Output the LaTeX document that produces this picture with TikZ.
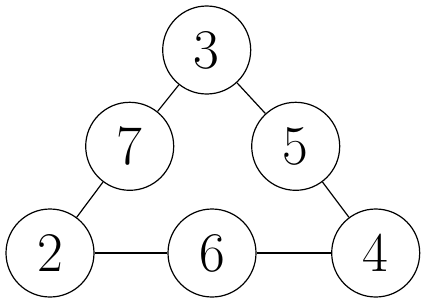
\documentclass[tikz,border=0pt]{standalone}
\begin{document}
\begin{tikzpicture}[x=1pt,y=-1pt,
  num/.style={circle,draw,line width=1.2pt,minimum size=88pt,inner sep=0pt,font=\fontsize{56}{56}\selectfont},
  edge/.style={line width=1.2pt}]
\useasboundingbox (0,0) rectangle (425,303);
\node[num] (n3) at (206.7,50) {3};
\node[num] (n7) at (129.7,146.3) {7};
\node[num] (n5) at (295.7,146.3) {5};
\node[num] (n2) at (50,253) {2};
\node[num] (n6) at (212,253) {6};
\node[num] (n4) at (375.7,253) {4};
\draw[edge] (n3) -- (n7);
\draw[edge] (n3) -- (n5);
\draw[edge] (n7) -- (n2);
\draw[edge] (n5) -- (n4);
\draw[edge] (n2) -- (n6);
\draw[edge] (n6) -- (n4);
\end{tikzpicture}
\end{document}
